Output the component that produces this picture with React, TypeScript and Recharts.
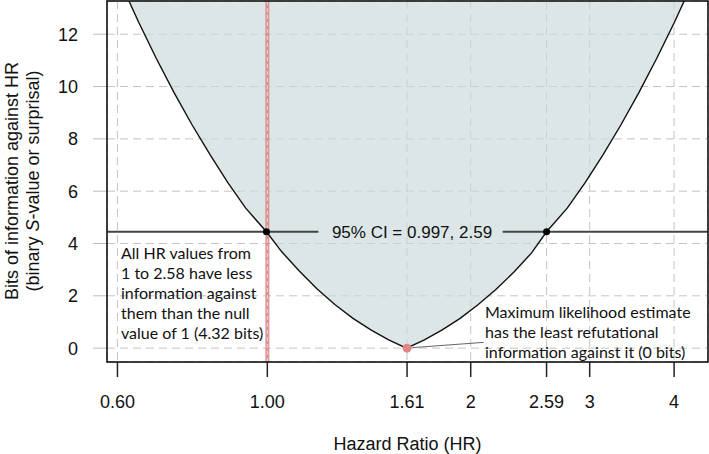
import { Area, CartesianGrid, ComposedChart, Line, ReferenceLine, Scatter, XAxis, YAxis } from "recharts";

// hazard ratio grid and S-value (bits)
const hazardRatios = [
  0.607, 0.645, 0.685, 0.728, 0.774, 0.823, 0.874, 0.929, 0.997, 1.049, 1.115, 1.185, 1.26, 1.339, 1.423, 1.512,
  1.607, 1.708, 1.815, 1.929, 2.05, 2.179, 2.316, 2.461, 2.59, 2.779, 2.954, 3.139, 3.336, 3.546, 3.769, 4.005, 4.256,
];
const sValues = [
  13.95, 12.46, 11.07, 9.76, 8.53, 7.39, 6.33, 5.35, 4.45, 3.7, 2.95, 2.26, 1.66, 1.14, 0.7, 0.32,
  0, 0.32, 0.7, 1.14, 1.66, 2.24, 2.9, 3.64, 4.45, 5.35, 6.33, 7.39, 8.53, 9.76, 11.07, 12.46, 13.95,
];

const ciBounds = [0.997, 2.59];
const ciBits = 4.45;
const mleHr = 1.61;
const nullHr = 1;

const xTicks = [0.6, 1, 1.61, 2, 2.59, 3, 4];
const xTickLabels = ["0.60", "1.00", "1.61", "2", "2.59", "3", "4"];
const yTicks = [0, 2, 4, 6, 8, 10, 12];

const curve = hazardRatios.map((hr, i) => ({ hr, s: sValues[i] }));
const ciDots = ciBounds.map((hr) => ({ hr, s: ciBits }));
const mleDot = [{ hr: mleHr, s: 0 }];

const X_MIN = 0.579;
const X_MAX = 4.49;
const Y_MIN = -0.53;
const Y_MAX = 13.27;

const W = 709;
const H = 454;
const PLOT = { left: 107, top: 1, right: 1, bottom: 92 };

const tickFont = { fontFamily: "'Liberation Sans', Arial, sans-serif", fontSize: 18, fill: "#111" };
const noteFont = { fontFamily: "Lato, sans-serif", fontSize: 16, fill: "#111" };

export default function App() {
  return (
    <div style={{ position: "absolute", left: 0, top: 0, width: W, height: H, background: "#fff" }}>
      <ComposedChart width={W} height={H} margin={{ top: PLOT.top, right: PLOT.right, left: 0, bottom: 0 }}>
        <CartesianGrid stroke="#c4c4c4" strokeDasharray="8 5" />
        <XAxis
          dataKey="hr"
          type="number"
          scale="log"
          domain={[X_MIN, X_MAX]}
          allowDataOverflow
          ticks={xTicks}
          tickFormatter={(v: number) => xTickLabels[xTicks.indexOf(v)] ?? String(v)}
          height={PLOT.bottom}
          tickSize={15}
          tickMargin={18}
          axisLine={false}
          tickLine={{ stroke: "#222", strokeWidth: 1.5 }}
          tick={tickFont}
        />
        <YAxis
          dataKey="s"
          type="number"
          domain={[Y_MIN, Y_MAX]}
          allowDataOverflow
          ticks={yTicks}
          width={PLOT.left}
          tickSize={14}
          tickMargin={15}
          axisLine={false}
          tickLine={{ stroke: "#bdbdbd", strokeWidth: 1 }}
          tick={tickFont}
        />
        <Area
          data={curve}
          dataKey="s"
          type="linear"
          baseValue="dataMax"
          stroke="none"
          fill="#c9d8da"
          fillOpacity={0.65}
          isAnimationActive={false}
        />
        <ReferenceLine x={nullHr} stroke="#d98383" strokeWidth={4} strokeOpacity={0.85} />
        <ReferenceLine x={nullHr} stroke="#f3dada" strokeWidth={1} strokeDasharray="4 3" />
        <Line
          data={curve}
          dataKey="s"
          type="linear"
          stroke="#111"
          strokeWidth={1.4}
          dot={false}
          isAnimationActive={false}
        />
        <ReferenceLine
          segment={[{ x: X_MIN, y: ciBits }, { x: 1.19, y: ciBits }]}
          stroke="#444"
          strokeWidth={2}
          ifOverflow="visible"
        />
        <ReferenceLine
          segment={[{ x: 2.23, y: ciBits }, { x: X_MAX, y: ciBits }]}
          stroke="#444"
          strokeWidth={2}
          ifOverflow="visible"
        />
        <ReferenceLine
          segment={[{ x: 1.64, y: 0.02 }, { x: 2.09, y: 0.22 }]}
          stroke="#666"
          strokeWidth={1}
          ifOverflow="visible"
        />
        <Scatter
          data={ciDots}
          dataKey="s"
          isAnimationActive={false}
          shape={(p: any) => <circle cx={p.cx} cy={p.cy} r={3.5} fill="#000" />}
        />
        <Scatter
          data={mleDot}
          dataKey="s"
          isAnimationActive={false}
          shape={(p: any) => <circle cx={p.cx} cy={p.cy} r={4.5} fill="#e08686" />}
        />
      </ComposedChart>
      <svg width={W} height={H} style={{ position: "absolute", left: 0, top: 0, pointerEvents: "none" }}>
        {/* plot frame */}
        <rect
          x={PLOT.left}
          y={PLOT.top}
          width={W - PLOT.left - PLOT.right}
          height={H - PLOT.top - PLOT.bottom}
          fill="none"
          stroke="#111"
          strokeWidth={1.6}
        />
        <g transform="translate(18,181) rotate(-90)">
          <text x={0} y={0} textAnchor="middle" {...tickFont}>
            Bits of information against HR
          </text>
          <text x={0} y={21} textAnchor="middle" {...tickFont}>
            (binary <tspan fontStyle="italic">S</tspan>-value or surprisal)
          </text>
        </g>
        <text x={407.5} y={450} textAnchor="middle" {...tickFont}>
          Hazard Ratio (HR)
        </text>
        <text x={412} y={238} textAnchor="middle" {...tickFont} fontSize={17}>
          95% CI = 0.997, 2.59
        </text>
        <g {...noteFont}>
          <text x={121} y={259}>All HR values from</text>
          <text x={121} y={279}>1 to 2.58 have less</text>
          <text x={121} y={299}>information against</text>
          <text x={121} y={319}>them than the null</text>
          <text x={121} y={339}>value of 1 (4.32 bits)</text>
        </g>
        <g {...noteFont}>
          <text x={485} y={318}>Maximum likelihood estimate</text>
          <text x={485} y={338}>has the least refutational</text>
          <text x={485} y={358}>information against it (0 bits)</text>
        </g>
      </svg>
    </div>
  );
}
